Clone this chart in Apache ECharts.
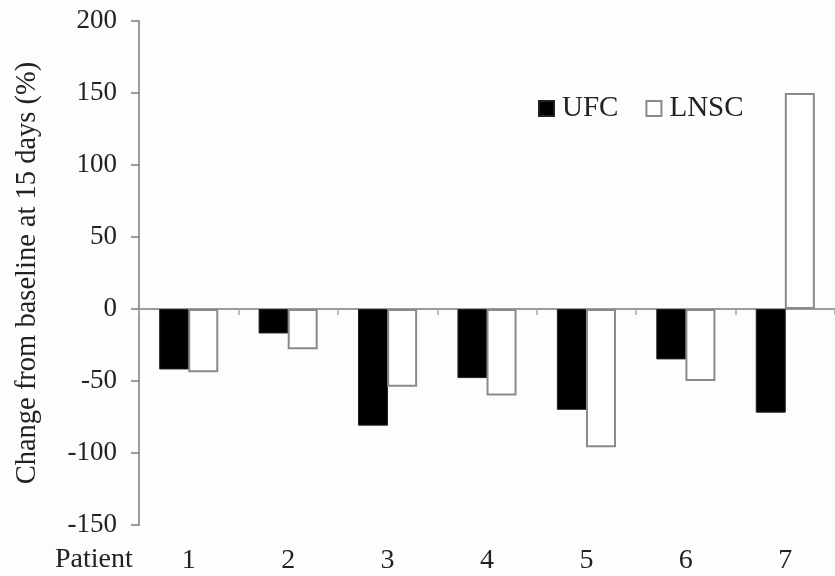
<!DOCTYPE html>
<html>
<head>
<meta charset="utf-8">
<script src="https://cdn.jsdelivr.net/npm/echarts@6/dist/echarts.min.js"></script>
<style>
  html, body { margin: 0; padding: 0; background: #fdfdfd; }
  #main { width: 835px; height: 576px; }
</style>
</head>
<body>
<div id="main"></div>
<script>
// 患者编号与两组数据（相对基线变化 %）
const patients = ["1", "2", "3", "4", "5", "6", "7"];
const ufc = [-42, -17, -81, -48, -70, -35, -72];
const lnsc = [-44, -28, -54, -60, -96, -50, 150];
const yTicks = { min: -150, max: 200, interval: 50 };

const serif = "Liberation Serif";
const axisGray = "#7a7a7a";

const chart = echarts.init(document.getElementById("main"));
chart.setOption({
  backgroundColor: "#fdfdfd",
  animation: false,
  textStyle: { fontFamily: serif, color: "#222" },
  grid: { left: 139, right: -4, top: 21, bottom: 51 },
  legend: {
    left: 533,
    top: 89,
    itemWidth: 15,
    itemHeight: 15,
    itemGap: 27,
    textStyle: { fontFamily: serif, fontSize: 29, color: "#222", padding: [0, 0, 0, 3] },
    data: [
      { name: "UFC", icon: "rect" },
      { name: "LNSC", icon: "rect" },
    ],
  },
  xAxis: [
    {
      // 零线，标签放在下面那根轴上
      type: "category",
      data: patients,
      axisLine: { show: true, onZero: true, lineStyle: { color: axisGray, width: 1.5 } },
      axisTick: { show: false },
      axisLabel: { show: false },
    },
    {
      type: "category",
      data: patients,
      position: "bottom",
      axisLine: { show: false, onZero: false },
      axisTick: { show: false },
      axisLabel: { fontFamily: serif, fontSize: 28, color: "#222", margin: 22 },
    },
    {
      // 只用来画零线下方的分隔刻度（从底边上移到 y=0 处）
      type: "value",
      position: "bottom",
      offset: -216,
      min: 0,
      max: patients.length,
      interval: 1,
      axisLine: { show: false, onZero: false },
      axisTick: { show: true, length: 6, lineStyle: { color: "#a8a8a8", width: 1.5 } },
      axisLabel: { show: false },
      splitLine: { show: false },
    },
  ],
  yAxis: {
    type: "value",
    min: yTicks.min,
    max: yTicks.max,
    interval: yTicks.interval,
    name: "Change from baseline at 15 days (%)",
    nameLocation: "middle",
    nameGap: 97,
    nameTextStyle: { fontFamily: serif, fontSize: 28.5, color: "#222" },
    axisLine: { show: true, lineStyle: { color: axisGray, width: 1.5 } },
    axisTick: { show: true, length: 8, lineStyle: { color: axisGray, width: 1.5 } },
    axisLabel: { fontFamily: serif, fontSize: 27, color: "#222", margin: 22 },
    splitLine: { show: false },
  },
  graphic: [
    {
      type: "text",
      left: 55,
      top: 546,
      style: { text: "Patient", font: "28px 'Liberation Serif'", fill: "#222" },
    },
  ],
  series: [
    {
      name: "UFC",
      type: "bar",
      data: ufc,
      barWidth: 30,
      barGap: "-3%",
      itemStyle: { color: "#000", borderColor: "#222", borderWidth: 1 },
    },
    {
      name: "LNSC",
      type: "bar",
      data: lnsc,
      barWidth: 30,
      barGap: "-3%",
      itemStyle: { color: "#fff", borderColor: "#8a8a8a", borderWidth: 2 },
    },
  ],
});
</script>
</body>
</html>
